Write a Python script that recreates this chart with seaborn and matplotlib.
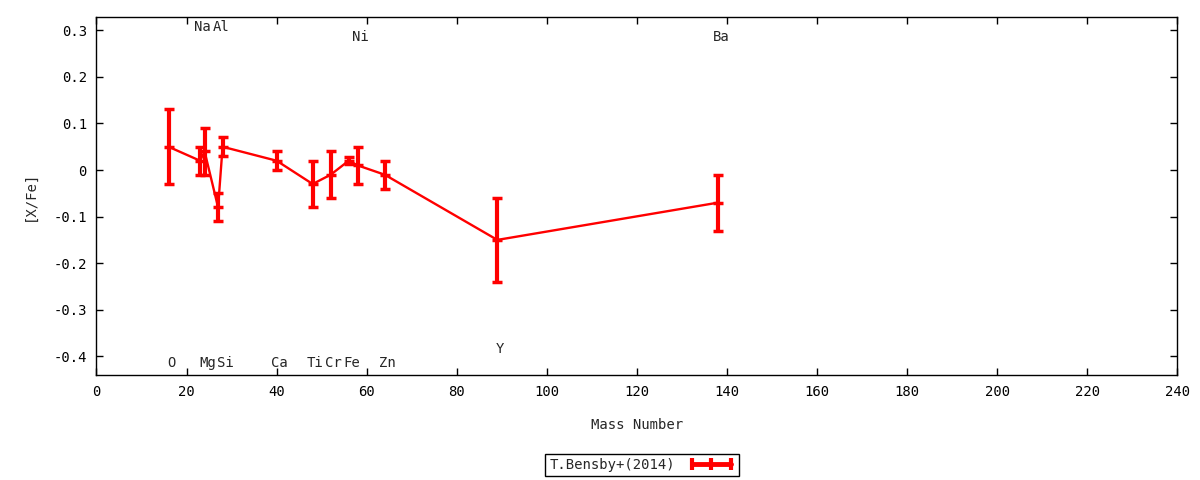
import numpy as np
import pandas as pd
import matplotlib
matplotlib.use("Agg")
import matplotlib.pyplot as plt
import seaborn as sns
from matplotlib.lines import Line2D
from matplotlib.ticker import FuncFormatter

# Data
elements = ["O", "Na", "Mg", "Al", "Si", "Ca", "Ti", "Cr", "Fe", "Ni", "Zn", "Y", "Ba"]
mass = [16, 23, 24, 27, 28, 40, 48, 52, 56, 58, 64, 89, 138]
x_fe = [0.05, 0.02, 0.04, -0.08, 0.05, 0.02, -0.03, -0.01, 0.02, 0.01, -0.01, -0.15, -0.07]
x_fe_err = [0.08, 0.03, 0.05, 0.03, 0.02, 0.02, 0.05, 0.05, 0.008, 0.04, 0.03, 0.09, 0.06]

x_ticks = list(range(0, 241, 20))
y_ticks = [-0.4, -0.3, -0.2, -0.1, 0.0, 0.1, 0.2, 0.3]

df = pd.DataFrame({"element": elements, "mass": mass, "x_fe": x_fe, "err": x_fe_err})

sns.set_style("ticks")
plt.rcParams["font.family"] = ["DejaVu Sans Mono", "DejaVu Sans"]
plt.rcParams["axes.unicode_minus"] = False

fig = plt.figure(figsize=(12, 4.8), dpi=100)
ax = fig.add_axes([0.0804, 0.2188, 0.9008, 0.7452])

# connecting line
sns.lineplot(data=df, x="mass", y="x_fe", color="red", lw=1.7, sort=False,
             estimator=None, ax=ax, legend=False)
# error bars and point markers
ax.errorbar(df["mass"], df["x_fe"], yerr=df["err"], fmt="none", ecolor="red",
            elinewidth=3, capsize=3.5, capthick=2.5)
ax.plot(df["mass"], df["x_fe"], ls="none", marker="_", ms=7, mew=2.5, color="red")

# element labels, staggered like the original
label_row = {"Na": 0.307, "Al": 0.307, "Ni": 0.286, "Ba": 0.286, "Y": -0.385}
for el, m in zip(elements, mass):
    ax.annotate(el, (m, label_row.get(el, -0.415)), xytext=(2, 0),
                textcoords="offset points", ha="center", va="center", fontsize=10)

ax.set_xlim(0, 240)
ax.set_ylim(-0.44, 0.328)
ax.set_xticks(x_ticks)
ax.set_yticks(y_ticks)
ax.yaxis.set_major_formatter(FuncFormatter(lambda v, p: f"{round(v, 2) + 0.0:g}"))
ax.tick_params(direction="in", top=True, right=True, length=5, width=1,
               labelsize=10, pad=7, colors="black")
for s in ax.spines.values():
    s.set_linewidth(1)
    s.set_color("black")

ax.set_xlabel("Mass Number", fontsize=10, labelpad=14)
ax.set_ylabel("[X/Fe]", fontsize=10, labelpad=12)

handle = Line2D([0], [0], color="red", lw=3.5, marker="|", ms=9, mew=3)
leg = fig.legend([handle], ["T.Bensby+(2014)"], loc="center",
                 bbox_to_anchor=(0.535, 0.0313), numpoints=3, markerfirst=False,
                 fancybox=False, edgecolor="black", framealpha=1, fontsize=10,
                 handlelength=3.4, handletextpad=0.9, borderpad=0.3)
leg.get_frame().set_linewidth(1)

fig.savefig("out.png", dpi=100)
